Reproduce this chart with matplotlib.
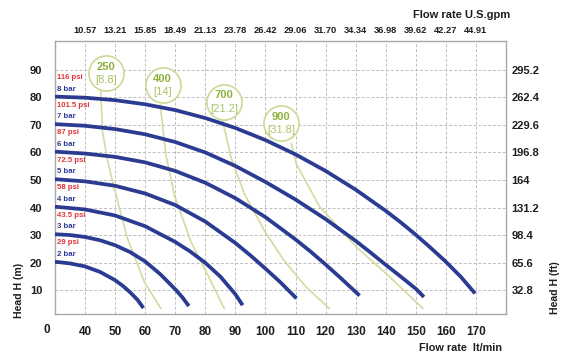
import matplotlib
matplotlib.use("Agg")
import matplotlib.pyplot as plt

plt.rcParams['font.family'] = ['Liberation Sans', 'DejaVu Sans']

# ---------------- data ----------------
flow_ticks = [40, 50, 60, 70, 80, 90, 100, 110, 120, 130, 140, 150, 160, 170]
gpm_labels = ["10.57", "13.21", "15.85", "18.49", "21.13", "23.78", "26.42",
              "29.06", "31.70", "34.34", "36.98", "39.62", "42.27", "44.91"]
head_ticks = [10, 20, 30, 40, 50, 60, 70, 80, 90]
ft_labels = ["32.8", "65.6", "98.4", "131.2", "164", "196.8", "229.6", "262.4", "295.2"]

bar_labels = ["2 bar", "3 bar", "4 bar", "5 bar", "6 bar", "7 bar", "8 bar"]
psi_labels = ["29 psi", "43.5 psi", "58 psi", "72.5 psi", "87 psi", "101.5 psi", "116 psi"]
bar_head = [20, 30, 40, 50, 60, 70, 80]

q_2bar = [30, 35, 40, 45, 50, 52.5, 55, 57.5, 59.4]
h_2bar = [20.3, 19.7, 18.6, 16.6, 13.6, 11.6, 9.2, 6.4, 3.5]
q_3bar = [30, 35, 40, 45, 50, 55, 60, 65, 70, 72.5, 74.5]
h_3bar = [30.3, 30.0, 29.3, 28.1, 26.3, 23.8, 20.4, 15.8, 10.3, 7.2, 4.2]
q_4bar = [30, 40, 50, 60, 70, 75, 80, 85, 90, 92.4]
h_4bar = [40.3, 39.3, 37.1, 33.2, 27.5, 24.0, 19.9, 14.9, 8.5, 4.5]
q_5bar = [30, 40, 50, 60, 70, 80, 90, 95, 100, 105, 110.3]
h_5bar = [50.3, 49.5, 47.9, 45.1, 40.9, 34.9, 27.1, 22.6, 17.8, 12.8, 7.0]
q_6bar = [30, 40, 50, 60, 70, 80, 90, 100, 110, 115, 120, 125, 131.3]
h_6bar = [60.3, 59.6, 58.4, 56.4, 53.3, 49.0, 43.4, 36.5, 28.4, 24.0, 19.3, 14.4, 8.0]
q_7bar = [30, 40, 50, 60, 70, 80, 90, 100, 110, 120, 130, 135, 140, 145, 150, 152.7]
h_7bar = [70.3, 69.7, 68.5, 66.6, 63.8, 60.0, 55.1, 49.3, 42.9, 35.8, 27.9, 23.6, 19.2, 14.9, 10.5, 7.5]
q_8bar = [30, 40, 50, 60, 70, 80, 90, 100, 110, 120, 130, 140, 145, 150, 155, 160, 165, 169.7]
h_8bar = [80.3, 79.9, 79.0, 77.5, 75.4, 72.5, 68.9, 64.5, 59.3, 53.3, 46.5, 38.8, 34.6, 30.1, 25.3, 20.3, 14.8, 8.8]

pump_q = [q_2bar, q_3bar, q_4bar, q_5bar, q_6bar, q_7bar, q_8bar]
pump_h = [h_2bar, h_3bar, h_4bar, h_5bar, h_6bar, h_7bar, h_8bar]

# air consumption lines: Nl/min [scfm]
air_nl = ["250", "400", "700", "900"]
air_scfm = ["[8.8]", "[14]", "[21.2]", "[31.8]"]
air_label_q = [46.9, 65.8, 86.3, 105.2]
air_label_h = [88.8, 84.5, 78.5, 70.6]
air_q = [[45.2, 45.8, 47.5, 49.7, 54.1, 59.7, 65.2],
         [65.0, 66.9, 69.7, 75.2, 80.8, 86.3],
         [85.8, 88.6, 93.0, 99.7, 106.0, 113.6, 121.3],
         [108.6, 110.2, 118.0, 130.2, 141.3, 152.4]]
air_h = [[82.1, 67.6, 57.0, 47.0, 28.8, 13.0, 3.3],
         [77.3, 59.1, 44.5, 27.6, 15.5, 3.3],
         [71.2, 58.0, 45.0, 31.5, 21.0, 11.0, 3.3],
         [63.3, 56.0, 40.3, 25.7, 14.8, 3.3]]

# ---------------- styles ----------------
BLUE = "#2b3b92"
RED = "#e0353a"
GREEN_LINE = "#d3dba0"
GREEN_EDGE = "#cbd995"
GREEN_TXT = "#8db23a"
GREEN_TXT2 = "#a9c465"
GRID = "#bdbdbd"
TXT = "#1e1e1e"

W, H = 561, 356
fig = plt.figure(figsize=(W / 100, H / 100), dpi=100)
fig.patch.set_facecolor("white")
ax = fig.add_axes([55 / W, 1 - 313.5 / H, (506 - 55) / W, (313.5 - 41) / H])
ax.set_xlim(30, 180)
ax.set_ylim(1.5, 100.5)

for v in flow_ticks:
    ax.axvline(v, color=GRID, lw=0.7, ls=(0, (3, 2)), zorder=0)
for v in head_ticks:
    ax.axhline(v, color=GRID, lw=0.7, ls=(0, (3, 2)), zorder=0)

# air lines
for xs, ys in zip(air_q, air_h):
    ax.plot(xs, ys, color=GREEN_LINE, lw=1.2, zorder=1, solid_capstyle="round",
            solid_joinstyle="round")
ax.scatter(air_label_q, air_label_h, s=640, facecolor="white", edgecolor=GREEN_EDGE,
           linewidth=1.2, zorder=2)
for q, h, a, b in zip(air_label_q, air_label_h, air_nl, air_scfm):
    ax.text(q, h + 2.2, a, color=GREEN_TXT, fontsize=8, fontweight="bold",
            ha="center", va="center", zorder=3)
    ax.text(q, h - 2.6, b, color=GREEN_TXT2, fontsize=8,
            ha="center", va="center", zorder=3)

# pump curves
for xs, ys in zip(pump_q, pump_h):
    ax.plot(xs, ys, color=BLUE, lw=2.7, zorder=4, solid_capstyle="butt",
            solid_joinstyle="round")

for hb, bl, pl in zip(bar_head, bar_labels, psi_labels):
    ax.text(30.6, hb + 7.2, pl, color=RED, fontsize=5.6, fontweight="bold",
            ha="left", va="center", zorder=5)
    ax.text(30.6, hb + 3.0, bl, color=BLUE, fontsize=5.6, fontweight="bold",
            ha="left", va="center", zorder=5)

for s in ax.spines.values():
    s.set_color("#a8a8a8")
    s.set_linewidth(1.0)

ax.set_xticks(flow_ticks)
ax.set_xticklabels([str(v) for v in flow_ticks])
ax.set_yticks(head_ticks)
ax.set_yticklabels([str(v) for v in head_ticks])
ax.tick_params(axis="x", length=0, pad=9, labelsize=8.5, labelcolor=TXT)
ax.tick_params(axis="y", length=0, pad=9, labelsize=8, labelcolor=TXT)
for t in ax.get_xticklabels() + ax.get_yticklabels():
    t.set_fontweight("bold")

ax.text(-0.018, -0.06, "0", transform=ax.transAxes, fontsize=8.5, fontweight="bold",
        color=TXT, ha="center", va="center")

# top axis (US gpm)
axt = ax.twiny()
axt.set_xlim(ax.get_xlim())
axt.set_xticks(flow_ticks)
axt.set_xticklabels(gpm_labels)
axt.tick_params(axis="x", length=0, pad=4, labelsize=6.7, labelcolor=TXT)
for t in axt.get_xticklabels():
    t.set_fontweight("bold")

# right axis (ft)
axr = ax.twinx()
axr.set_ylim(ax.get_ylim())
axr.set_yticks(head_ticks)
axr.set_yticklabels(ft_labels)
axr.tick_params(axis="y", length=0, pad=4, labelsize=8, labelcolor=TXT)
for t in axr.get_yticklabels():
    t.set_fontweight("bold")
for a in (axt, axr):
    for s in a.spines.values():
        s.set_visible(False)

fig.text(510 / W, 1 - 15 / H, "Flow rate U.S.gpm", fontsize=8, fontweight="bold",
         color=TXT, ha="right", va="center")
fig.text(502 / W, 1 - 348 / H, "Flow rate  lt/min", fontsize=7.8, fontweight="bold",
         color=TXT, ha="right", va="center")
fig.text(19 / W, 1 - 290 / H, "Head H (m)", fontsize=7.6, fontweight="bold",
         color=TXT, ha="center", va="center", rotation=90)
fig.text(555 / W, 1 - 288 / H, "Head H (ft)", fontsize=7.6, fontweight="bold",
         color=TXT, ha="center", va="center", rotation=90)

fig.savefig("out.png", dpi=100, facecolor="white")
